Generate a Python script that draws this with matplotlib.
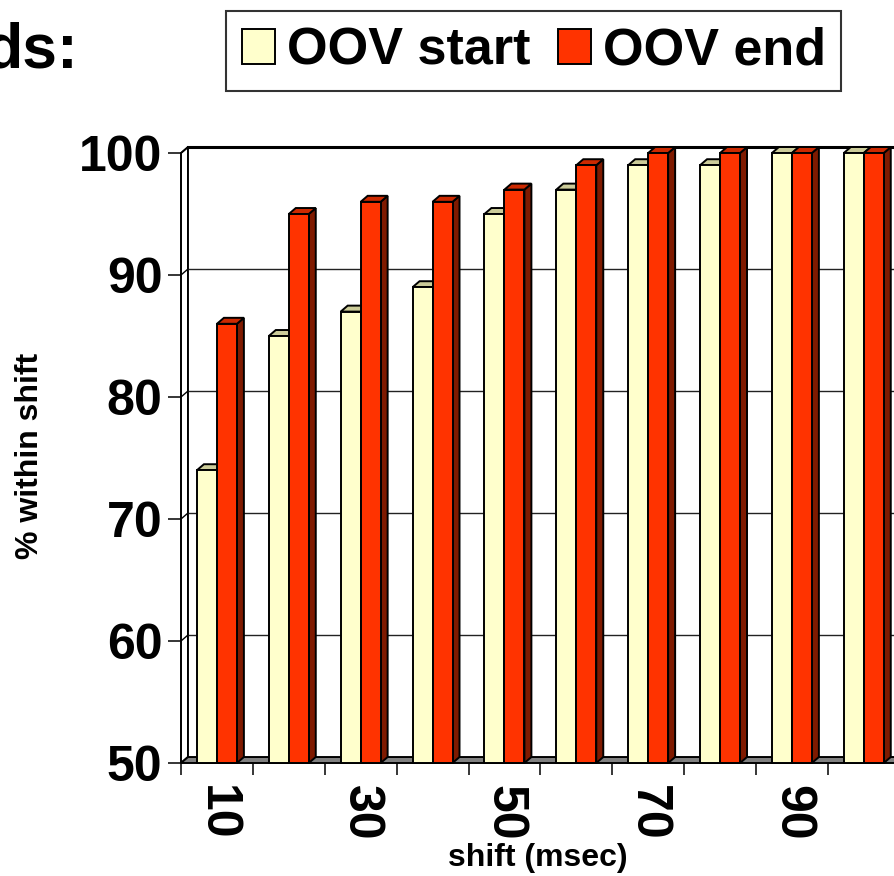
import matplotlib
matplotlib.use('Agg')
import numpy as np
import matplotlib.pyplot as plt
from matplotlib.patches import Polygon

# % of OOV boundaries detected within a given time shift
shifts = [10, 20, 30, 40, 50, 60, 70, 80, 90, 100]
oov_start = [74, 85, 87, 89, 95, 97, 99, 99, 100, 100]
oov_end = [86, 95, 96, 96, 97, 99, 100, 100, 100, 100]
series_names = ['OOV start', 'OOV end']
yticks = [50, 60, 70, 80, 90, 100]

plt.rcParams['font.family'] = ['Liberation Sans', 'DejaVu Sans']
plt.rcParams['font.weight'] = 'bold'

fig = plt.figure(figsize=(8.94, 8.76), dpi=100)
ax = fig.add_axes([181 / 894, 113 / 876, 713 / 894, 610 / 876])

ymin, ymax = 50, 100
x0, x1 = -0.5, 9.42
ax.set_xlim(x0, x1)
ax.set_ylim(ymin, ymax)
for s in ax.spines.values():
    s.set_visible(False)

# fake 3D depth (data units)
DX, DY = 0.097, 0.49
W = 0.278
lw = 1.4

# left side wall and floor
ax.add_patch(Polygon([(x0, ymin), (x0, ymax), (x0 + DX, ymax + DY), (x0 + DX, ymin + DY)],
                     facecolor='white', edgecolor='black', lw=lw, clip_on=False, zorder=0.5))
ax.add_patch(Polygon([(x0, ymin), (x1 + 1, ymin), (x1 + 1 + DX, ymin + DY), (x0 + DX, ymin + DY)],
                     facecolor='#808080', edgecolor='black', lw=lw, clip_on=False, zorder=0.6))

# gridlines on the back wall + the little diagonals on the side wall
for v in yticks[1:-1]:
    ax.plot([x0 + DX, x1 + 1], [v + DY, v + DY], color='#222222', lw=1.0, clip_on=False, zorder=0.7)
    ax.plot([x0, x0 + DX], [v, v + DY], color='black', lw=1.0, clip_on=False, zorder=0.7)
ax.plot([x0 + DX, x1 + 1], [ymax + DY, ymax + DY], color='black', lw=2.2, clip_on=False, zorder=0.7)
ax.plot([x0, x0 + DX], [ymax, ymax + DY], color='black', lw=1.0, clip_on=False, zorder=0.7)

x = np.arange(len(shifts))


def bars3d(xleft, vals, front, top, side, z, label):
    bc = ax.bar(xleft, np.array(vals) - ymin, width=W, bottom=ymin, align='edge',
                facecolor=front, edgecolor='black', linewidth=lw, zorder=z + 0.5,
                clip_on=False, label=label)
    for xl, v in zip(xleft, vals):
        xr = xl + W
        ax.add_patch(Polygon([(xr, ymin), (xr, v), (xr + DX, v + DY), (xr + DX, ymin + DY)],
                             facecolor=side, edgecolor='black', lw=lw, clip_on=False, zorder=z))
        ax.add_patch(Polygon([(xl, v), (xr, v), (xr + DX, v + DY), (xl + DX, v + DY)],
                             facecolor=top, edgecolor='black', lw=lw, clip_on=False, zorder=z))
    return bc


b1 = bars3d(x - W, oov_start, '#FFFFCC', '#CCCC99', '#999966', 2, series_names[0])
b2 = bars3d(x, oov_end, '#FF3300', '#CC2900', '#7F1A00', 4, series_names[1])

# axes ticks
ax.set_yticks(yticks)
ax.set_yticklabels([str(t) for t in yticks], fontsize=36, fontweight='bold')
ax.tick_params(axis='y', length=9.4, width=1.1, pad=4)

ax.set_xticks(x)
ax.set_xticklabels([str(s) if i % 2 == 0 else '' for i, s in enumerate(shifts)],
                   rotation=270, fontsize=36, fontweight='bold')
ax.tick_params(axis='x', which='major', length=0, pad=16)
ax.set_xticks(np.arange(x0, x1 + 0.01, 1.0), minor=True)
ax.tick_params(axis='x', which='minor', length=8.6, width=1.1)

fig.text(538 / 894, 1 - 858 / 876, 'shift (msec)', ha='center', va='center',
         fontsize=23, fontweight='bold')
fig.text(30 / 894, 1 - 456 / 876, '% within shift', ha='center', va='center',
         rotation=90, fontsize=23, fontweight='bold')

fig.text(78 / 894, 1 - 68 / 876, 'ds:', ha='right', va='baseline',
         fontsize=45, fontweight='bold')

leg = fig.legend(handles=[b1, b2], labels=series_names, loc='upper left',
                 bbox_to_anchor=(226 / 894, 1 - 11 / 876), ncol=2, fontsize=37.5,
                 frameon=True, fancybox=False, edgecolor='black', borderaxespad=0,
                 handlelength=0.65, handleheight=0.65, handletextpad=0.22,
                 columnspacing=0.52, borderpad=0.3)
leg.get_frame().set_linewidth(1.5)

fig.savefig('out.png', dpi=100)
